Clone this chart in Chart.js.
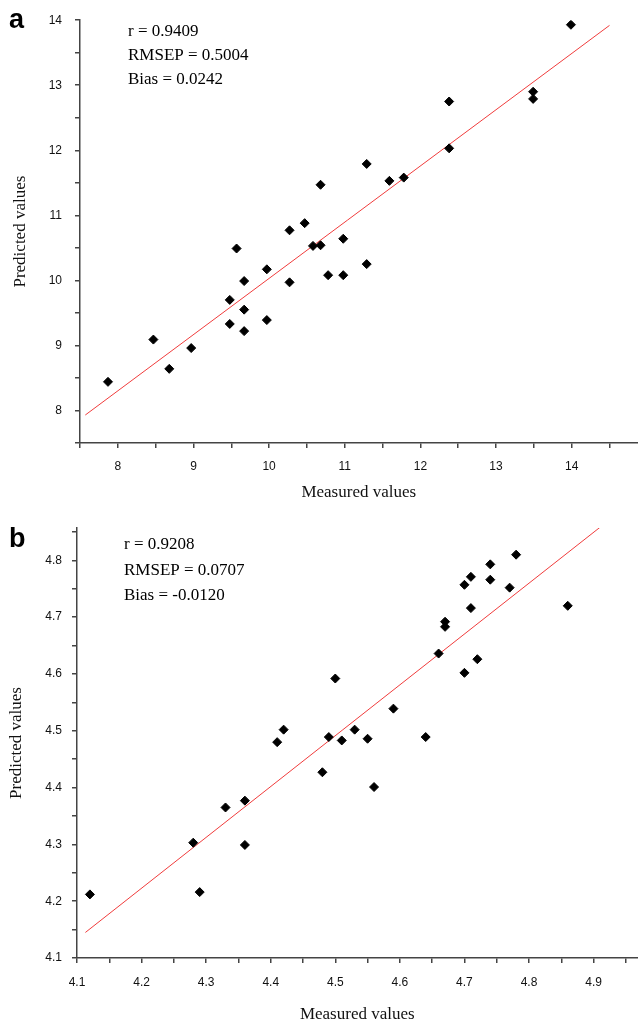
<!DOCTYPE html>
<html>
<head>
<meta charset="utf-8">
<script src="https://cdn.jsdelivr.net/npm/chart.js@4.4.0/dist/chart.umd.min.js"></script>
<style>
  html, body { margin: 0; padding: 0; background: #fff; overflow: hidden; }
  #wrapA { position: absolute; left: 0; top: 0; width: 643px; height: 510px; }
  #wrapB { position: absolute; left: 0; top: 510px; width: 643px; height: 516px; }
</style>
</head>
<body>
<div id="wrapA"><canvas id="chartA"></canvas></div>
<div id="wrapB"><canvas id="chartB"></canvas></div>
<script>
// panel a
const measuredA = [7.87, 8.47, 8.68, 8.97, 9.48, 9.48, 9.57, 9.67, 9.67, 9.67, 9.97, 9.97, 10.27, 10.27, 10.47,
  10.58, 10.68, 10.68, 10.78, 10.98, 10.98, 11.29, 11.29, 11.59, 11.78, 12.38, 12.38, 13.49, 13.49, 13.99]
const predictedA = [8.44, 9.09, 8.64, 8.96, 9.70, 9.33, 10.49, 9.99, 9.55, 9.22, 10.17, 9.39, 10.77, 9.97, 10.88,
  10.53, 10.54, 11.47, 10.08, 10.64, 10.08, 11.79, 10.25, 11.53, 11.58, 12.75, 12.03, 12.90, 12.79, 13.93]
const fitXA = [7.57, 14.5]
const fitYA = [7.93, 13.92]
const statsA = ['r = 0.9409', 'RMSEP = 0.5004', 'Bias = 0.0242']

// panel b
const measuredB = [4.12, 4.28, 4.29, 4.33, 4.36, 4.36, 4.41, 4.42, 4.48, 4.49, 4.50, 4.51, 4.53, 4.55, 4.56,
  4.59, 4.64, 4.66, 4.67, 4.67, 4.70, 4.70, 4.71, 4.71, 4.72, 4.74, 4.74, 4.77, 4.78, 4.86]
const predictedB = [4.212, 4.303, 4.216, 4.365, 4.377, 4.299, 4.480, 4.502, 4.427, 4.489, 4.592, 4.483, 4.502, 4.486, 4.401,
  4.539, 4.489, 4.636, 4.692, 4.683, 4.602, 4.757, 4.771, 4.716, 4.626, 4.793, 4.766, 4.752, 4.810, 4.720]
const fitXB = [4.113, 4.913]
const fitYB = [4.145, 4.861]
const statsB = ['r = 0.9208', 'RMSEP = 0.0707', 'Bias = -0.0120']

const axisColor = '#444'
const tickFont = { family: '"Liberation Sans", Arial, sans-serif', size: 12 }
const titleFont = { family: '"Liberation Serif", "Times New Roman", serif', size: 17 }

const toPoints = (xs, ys) => xs.map((x, i) => ({ x: x, y: ys[i] }))

// draws the panel letter and the stats block
const panelText = {
  id: 'panelText',
  afterDraw(chart, args, opts) {
    const ctx = chart.ctx
    ctx.save()
    ctx.fillStyle = '#000'
    ctx.textAlign = 'left'
    ctx.textBaseline = 'alphabetic'
    ctx.font = 'bold 27px "Liberation Sans", Arial, sans-serif'
    ctx.fillText(opts.label, 9, opts.labelY)
    ctx.textBaseline = 'middle'
    ctx.font = '17px "Liberation Serif", "Times New Roman", serif'
    opts.lines.forEach((t, i) => ctx.fillText(t, opts.x, opts.y + i * opts.gap))
    ctx.restore()
  }
}

function makeChart(el, cfg) {
  return new Chart(el, {
    plugins: [panelText],
    data: {
      datasets: [{
        type: 'scatter',
        data: toPoints(cfg.xs, cfg.ys),
        pointStyle: 'rectRot',
        pointRadius: 4.5,
        pointBackgroundColor: '#000',
        pointBorderColor: '#000',
        pointBorderWidth: 1
      }, {
        type: 'line',
        data: toPoints(cfg.fitX, cfg.fitY),
        borderColor: '#f03c3c',
        borderWidth: 1,
        pointRadius: 0
      }]
    },
    options: {
      responsive: true,
      maintainAspectRatio: false,
      animation: false,
      layout: { padding: { top: cfg.padTop, left: 0, right: 0, bottom: 0 } },
      scales: {
        x: {
          type: 'linear',
          min: cfg.xMin,
          max: cfg.xMax,
          afterFit(scale) { scale.height = cfg.xHeight },
          border: { display: true, color: axisColor, width: 1.5 },
          grid: { display: true, drawOnChartArea: false, drawTicks: true, tickLength: 5, color: axisColor, lineWidth: 1.5 },
          ticks: {
            stepSize: cfg.xStep,
            includeBounds: false,
            autoSkip: false,
            maxRotation: 0,
            padding: cfg.xPad,
            color: '#111',
            font: tickFont,
            callback: cfg.fmt
          },
          title: { display: true, text: 'Measured values', color: '#111', font: titleFont, padding: { top: 0, bottom: cfg.xTitlePad } }
        },
        y: {
          type: 'linear',
          min: cfg.yMin,
          max: cfg.yMax,
          afterFit(scale) { scale.width = cfg.yWidth },
          border: { display: true, color: axisColor, width: 1.5 },
          grid: { display: true, drawOnChartArea: false, drawTicks: true, tickLength: 5, color: axisColor, lineWidth: 1.5 },
          ticks: {
            stepSize: cfg.yStep,
            includeBounds: false,
            autoSkip: false,
            padding: cfg.yPad,
            color: '#111',
            font: tickFont,
            callback: cfg.fmt
          },
          title: { display: true, text: 'Predicted values', color: '#111', font: titleFont, padding: { top: cfg.yTitlePad, bottom: 0 } }
        }
      },
      plugins: {
        legend: { display: false },
        tooltip: { enabled: false },
        panelText: { label: cfg.label, labelY: cfg.labelY, lines: cfg.lines, x: cfg.textX, y: cfg.textY, gap: cfg.textGap }
      }
    }
  })
}

let chartA = makeChart(document.querySelector('#chartA'), {
  xs: measuredA, ys: predictedA, fitX: fitXA, fitY: fitYA,
  xMin: 7.5, xMax: 14.87, xStep: 0.5, yMin: 7.5, yMax: 14, yStep: 0.5,
  fmt: v => (Math.abs(v - Math.round(v)) < 1e-6 ? Math.round(v) : ''),
  padTop: 20, xHeight: 67, yWidth: 80, xPad: 11, yPad: 13, xTitlePad: 7, yTitlePad: 10,
  label: 'a', labelY: 28, lines: statsA, textX: 128, textY: 32, textGap: 24
})

let chartB = makeChart(document.querySelector('#chartB'), {
  xs: measuredB, ys: predictedB, fitX: fitXB, fitY: fitYB,
  xMin: 4.1, xMax: 4.968, xStep: 0.05, yMin: 4.1, yMax: 4.857, yStep: 0.05,
  fmt: v => (Math.round(v * 100) % 10 === 0 ? v.toFixed(1) : ''),
  padTop: 18, xHeight: 68, yWidth: 77, xPad: 12, yPad: 10, xTitlePad: 1, yTitlePad: 6,
  label: 'b', labelY: 37, lines: statsB, textX: 124, textY: 35, textGap: 25.5
})
</script>
</body>
</html>
